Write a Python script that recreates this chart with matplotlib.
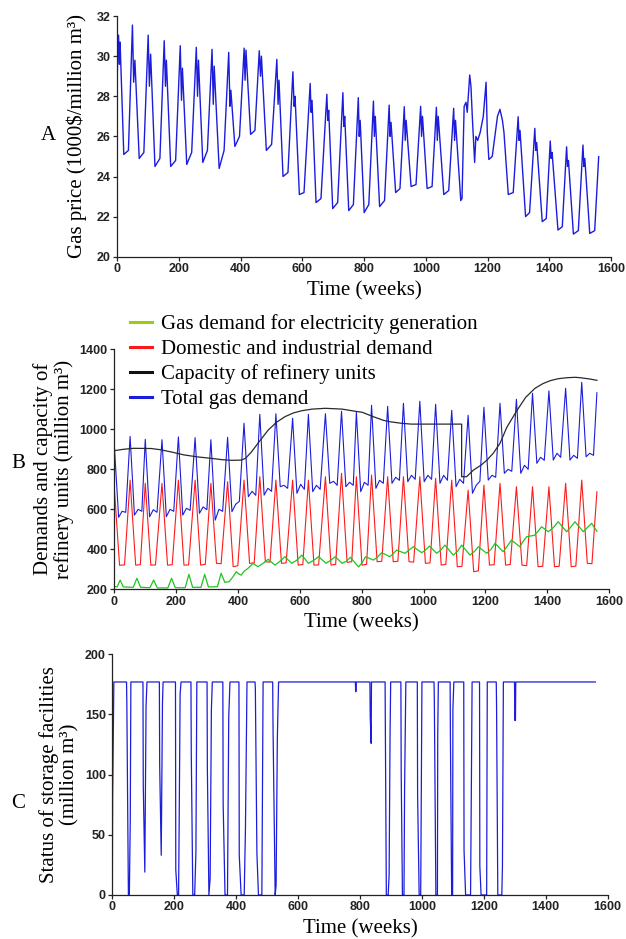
import matplotlib
matplotlib.use("Agg")
import matplotlib.pyplot as plt
from matplotlib.lines import Line2D

# ---- A: gas price, 1000$/million m3 (weekly, key points per season) ----
price_wk = [0,
            4, 7, 9, 21, 36,
            49, 53, 57, 71, 86,
            100, 104, 108, 122, 138,
            152, 156, 159, 173, 189,
            204, 208, 211, 225, 241,
            256, 260, 263, 277, 292,
            307, 311, 314, 330, 346,
            361, 365, 368, 381, 396,
            411, 414, 417, 432, 446,
            460, 464, 467, 483, 500,
            517, 521, 524, 537, 553,
            569, 573, 576, 590, 605,
            625, 628, 631, 644, 660,
            679, 682, 685, 698, 714,
            731, 734, 737, 750, 765,
            781, 784, 787, 800, 815,
            830, 833, 836, 850, 866,
            881, 884, 887, 902, 916,
            930, 933, 936, 952, 968,
            983, 986, 989, 1004, 1020,
            1034, 1037, 1040, 1058, 1074,
            1090, 1093, 1096, 1113, 1117, 1124, 1130, 1134,
            1142, 1146, 1151, 1158, 1162, 1168, 1176, 1186,
            1195, 1199, 1204, 1215, 1232,
            1240, 1248, 1253, 1267, 1283,
            1299, 1302, 1305, 1323, 1336,
            1353, 1356, 1359, 1377, 1390,
            1403, 1406, 1409, 1428, 1442,
            1456, 1459, 1462, 1478, 1494,
            1509, 1512, 1515, 1531, 1547,
            1560]
price_val = [29.2,
             31.05, 29.6, 30.7, 25.1, 25.3,
             31.55, 28.7, 29.8, 24.9, 25.2,
             31.05, 28.5, 30.1, 24.5, 24.9,
             30.77, 28.5, 29.8, 24.5, 24.8,
             30.52, 27.8, 29.4, 24.6, 25.2,
             30.44, 28.0, 29.8, 24.7, 25.3,
             30.34, 27.6, 29.5, 24.4, 25.3,
             30.19, 27.5, 28.3, 25.5, 26.0,
             30.40, 28.8, 30.3, 26.1, 26.3,
             30.27, 29.0, 30.0, 25.3, 25.6,
             29.84, 27.6, 28.8, 24.0, 24.2,
             29.22, 27.5, 28.0, 23.1, 23.2,
             28.64, 27.2, 27.8, 22.7, 22.9,
             28.10, 26.8, 27.3, 22.4, 22.7,
             28.18, 26.5, 27.0, 22.3, 22.6,
             27.93, 26.0, 26.8, 22.2, 22.6,
             27.76, 26.0, 27.0, 22.5, 22.8,
             27.56, 26.0, 26.7, 23.2, 23.4,
             27.48, 25.8, 26.8, 23.5, 23.6,
             27.50, 26.0, 27.0, 23.4, 23.5,
             27.45, 25.8, 27.0, 23.1, 23.3,
             27.40, 25.8, 26.8, 22.8, 22.9, 27.5, 27.7, 27.2,
             29.06, 28.5, 26.8, 24.7, 26.0, 25.8, 26.2, 27.0,
             28.70, 26.2, 24.85, 25.0, 27.0,
             27.35, 26.8, 26.2, 23.1, 23.2,
             26.98, 25.8, 26.3, 22.0, 22.2,
             26.40, 25.3, 25.7, 21.75, 21.9,
             25.77, 24.9, 25.2, 21.33, 21.5,
             25.48, 24.5, 24.8, 21.13, 21.3,
             25.57, 24.5, 24.9, 21.16, 21.3,
             24.99]

# ---- B: demands and refinery capacity, million m3 ----
total_wk = [0, 6, 15, 26, 38,
            52, 66, 78, 90,
            101, 115, 127, 139,
            155, 169, 181, 193,
            208, 222, 234, 246,
            262, 276, 288, 300,
            313, 327, 339, 351,
            367, 381, 393, 405,
            420, 434, 446, 458,
            471, 485, 497, 509,
            523, 537, 549, 561,
            577, 591, 603, 615,
            628, 642, 654, 666,
            683, 697, 709, 721,
            735, 749, 761, 773,
            783, 797, 809, 821,
            832, 846, 858, 870,
            884, 898, 910, 922,
            935, 949, 961, 973,
            988, 1002, 1014, 1026,
            1039, 1053, 1065, 1077,
            1091, 1105, 1117, 1129,
            1144, 1158, 1170, 1182,
            1195, 1209, 1221, 1233,
            1247, 1261, 1273, 1285,
            1300, 1314, 1326, 1338,
            1352, 1366, 1378, 1390,
            1405, 1419, 1431, 1443,
            1459, 1473, 1485, 1497,
            1511, 1525, 1537, 1549,
            1560]
total_val = [946, 790, 560, 590, 585,
             965, 571, 600, 590,
             950, 563, 598, 585,
             948, 563, 600, 590,
             962, 571, 605, 595,
             958, 580, 612, 598,
             948, 546, 600, 590,
             960, 588, 625, 640,
             1030, 663, 690, 670,
             1075, 671, 705, 690,
             1078, 713, 720, 705,
             1055, 680, 725, 700,
             1075, 688, 720, 700,
             1078, 730, 740, 720,
             1090, 713, 735, 720,
             1085, 688, 735, 720,
             1120, 705, 745, 730,
             1115, 730, 760, 745,
             1130, 738, 770, 750,
             1140, 738, 770, 750,
             1125, 730, 770, 745,
             1095, 713, 750, 730,
             1070, 680, 720, 740,
             1110, 746, 770, 760,
             1130, 780, 800, 790,
             1150, 780, 820, 800,
             1180, 830, 860, 845,
             1192, 846, 880, 860,
             1205, 846, 870, 855,
             1235, 863, 880, 870,
             1183]

domestic_wk = [0, 18, 34,
               52, 70, 85,
               101, 119, 134,
               155, 173, 188,
               208, 226, 241,
               262, 280, 295,
               313, 331, 346,
               367, 385, 400,
               420, 438, 453,
               471, 489, 504,
               523, 541, 556,
               577, 595, 610,
               628, 646, 661,
               683, 701, 716,
               735, 753, 768,
               783, 801, 816,
               832, 850, 865,
               884, 902, 917,
               935, 953, 968,
               988, 1006, 1021,
               1039, 1057, 1072,
               1091, 1109, 1124,
               1144, 1162, 1177,
               1195, 1213, 1228,
               1247, 1265, 1280,
               1300, 1318, 1333,
               1352, 1370, 1385,
               1405, 1423, 1438,
               1459, 1477, 1492,
               1511, 1529, 1544,
               1560]
domestic_val = [730, 320, 322,
                746, 321, 323,
                730, 321, 322,
                730, 321, 323,
                746, 321, 322,
                746, 321, 325,
                730, 330, 328,
                738, 313, 318,
                746, 330, 332,
                763, 338, 336,
                746, 330, 332,
                746, 321, 324,
                746, 321, 322,
                763, 321, 325,
                780, 335, 338,
                763, 321, 325,
                771, 338, 340,
                763, 338, 340,
                763, 338, 336,
                763, 330, 332,
                755, 321, 325,
                746, 313, 315,
                696, 288, 292,
                721, 321, 323,
                730, 321, 324,
                713, 321, 318,
                713, 313, 315,
                713, 313, 315,
                730, 313, 316,
                746, 330, 328,
                688]

power_wk = [0, 10, 20, 30, 62, 74, 86, 116, 128, 140, 174, 186, 198,
            230, 242, 254, 281, 293, 305, 334, 346, 358, 372, 383, 395,
            405, 411, 420, 433, 449, 465, 482, 498, 520, 536, 552, 574,
            590, 607, 628, 645, 661, 685, 700, 715, 737, 750, 764, 790,
            800, 813, 838, 850, 865, 891, 900, 913, 940, 952, 967, 994,
            1005, 1019, 1042, 1055, 1069, 1096, 1110, 1123, 1150, 1165,
            1177, 1204, 1218, 1231, 1257, 1270, 1284, 1311, 1322, 1333,
            1358, 1370, 1381, 1403, 1420, 1435, 1462, 1475, 1489, 1516,
            1530, 1543, 1560]
power_val = [215, 212, 246, 212, 210, 255, 210, 208, 246, 207, 207, 255, 208,
             208, 275, 210, 210, 275, 212, 213, 280, 235, 238, 260, 288,
             275, 271, 290, 305, 330, 313, 330, 350, 321, 340, 363, 330,
             345, 371, 330, 345, 363, 330, 345, 363, 330, 340, 360, 312,
             330, 363, 346, 360, 383, 363, 375, 396, 380, 395, 413, 383,
             395, 416, 380, 395, 421, 371, 390, 421, 371, 390,
             413, 380, 400, 430, 388, 415, 446, 413, 440, 463,
             470, 490, 513, 488, 510, 538, 488, 510, 538, 488,
             510, 530, 490]

capacity_wk = [0, 30, 63, 120, 150, 190, 226, 270, 313, 350, 380, 411, 425,
               443, 470, 498, 525, 552, 580, 607, 640, 683, 737, 780, 802,
               838, 870, 891, 929, 960, 1123, 1123, 1139, 1161, 1185, 1204,
               1225, 1247, 1269, 1300, 1330, 1360, 1385, 1409, 1435, 1463,
               1490, 1506, 1535, 1560]
capacity_val = [893, 900, 905, 904, 898, 885, 872, 862, 855, 848, 845, 846, 855,
                885, 940, 996, 1035, 1063, 1082, 1093, 1101, 1105, 1101, 1090, 1085,
                1063, 1045, 1038, 1030, 1026, 1026, 763, 763, 796, 820, 845,
                880, 930, 1010, 1090, 1160, 1205, 1228, 1243, 1253, 1258,
                1260, 1258, 1252, 1245]

# ---- C: storage facilities, million m3 ----
storage_wk = [0, 1, 5,
              46, 47, 50, 52, 55, 58, 60,
              99, 100, 105, 109, 112,
              152, 153, 158, 162, 164,
              204, 205, 210, 214, 216, 219, 222,
              254, 255, 260, 266, 270, 273,
              306, 307, 312, 316, 320, 323,
              357, 358, 364, 372, 376, 380,
              409, 410, 416, 426, 430, 435,
              461, 462, 467, 472, 483, 487,
              518, 519, 526, 529, 533, 537,
              785, 786, 787, 788,
              832, 833, 836, 837,
              881, 882, 885, 891, 894, 897, 899,
              932, 933, 937, 942, 944, 948,
              985, 986, 991, 996, 1000,
              1039, 1040, 1045, 1050, 1051, 1053,
              1091, 1092, 1096, 1099, 1100, 1103,
              1135, 1136, 1141, 1157, 1160, 1162,
              1186, 1187, 1191, 1209, 1211,
              1240, 1241, 1245, 1258, 1260, 1263,
              1299, 1300, 1302, 1303,
              1560]
storage_val = [0, 79, 177,
               177, 158, 62, 0, 0, 62, 177,
               177, 91, 19, 157, 177,
               177, 108, 33, 159, 177,
               177, 21, 0, 0, 61, 167, 177,
               177, 119, 0, 0, 35, 177,
               177, 105, 0, 14, 154, 177,
               177, 76, 0, 0, 147, 177,
               177, 33, 0, 0, 55, 177,
               177, 171, 35, 0, 0, 177,
               177, 141, 0, 8, 130, 177,
               177, 169, 169, 177,
               177, 148, 126, 177,
               177, 132, 0, 0, 17, 132, 177,
               177, 102, 0, 0, 89, 177,
               177, 83, 0, 0, 177,
               177, 163, 0, 0, 132, 177,
               177, 129, 0, 0, 154, 177,
               177, 37, 0, 0, 104, 177,
               177, 24, 0, 0, 177,
               177, 157, 0, 0, 24, 177,
               177, 145, 145, 177,
               177]

week_ticks = list(range(0, 1601, 200))

SERIF = "Liberation Serif"
TICK_FONT = {"family": "Liberation Sans", "weight": "bold", "size": 9}
LINE_BLUE = "#1c1cdc"


def style_axis(ax, ylim, yticks):
    ax.set_xlim(0, 1600)
    ax.set_ylim(*ylim)
    ax.set_xticks(week_ticks)
    ax.set_yticks(yticks)
    for side in ("top", "right"):
        ax.spines[side].set_visible(False)
    for side in ("left", "bottom"):
        ax.spines[side].set_color("#222222")
        ax.spines[side].set_linewidth(0.9)
    ax.tick_params(direction="out", length=3.2, width=0.9, pad=1.5,
                   colors="#222222")
    for lab in ax.get_xticklabels() + ax.get_yticklabels():
        lab.set_fontproperties(TICK_FONT)
    ax.set_xlabel("Time (weeks)", family=SERIF, fontsize=15, labelpad=4)


fig = plt.figure(figsize=(6.26, 9.39), dpi=100)

ax_a = fig.add_axes([0.1874, 0.7266, 0.7887, 0.2563])
ax_b = fig.add_axes([0.1821, 0.3724, 0.7912, 0.2556])
ax_c = fig.add_axes([0.1794, 0.0469, 0.7914, 0.2563])

# A
ax_a.plot(price_wk, price_val, color=LINE_BLUE, lw=1.0)
style_axis(ax_a, (20, 32), range(20, 33, 2))
ax_a.set_ylabel("Gas price (1000\\$/million m³)", family=SERIF,
                fontsize=15, labelpad=7)

# B
ax_b.plot(total_wk, total_val, color=LINE_BLUE, lw=0.8)
ax_b.plot(domestic_wk, domestic_val, color="#ff1a1a", lw=0.8)
ax_b.plot(power_wk, power_val, color="#1fc41f", lw=0.9)
ax_b.plot(capacity_wk, capacity_val, color="#2a2a2a", lw=0.9)
style_axis(ax_b, (200, 1400), range(200, 1401, 200))
ax_b.set_ylabel("Demands and capacity of\nrefinery units (million m³)",
                family=SERIF, fontsize=15, labelpad=4, linespacing=1.05)

handles = [Line2D([], [], color="#9ccc10", lw=2.2),
           Line2D([], [], color="#ff1a1a", lw=2.2),
           Line2D([], [], color="#111111", lw=2.2),
           Line2D([], [], color=LINE_BLUE, lw=2.2)]
labels = ["Gas demand for electricity generation",
          "Domestic and industrial demand",
          "Capacity of refinery units",
          "Total gas demand"]
fig.legend(handles, labels, loc="upper left",
           bbox_to_anchor=(130 / 626, 1 - 314 / 939),
           frameon=False, prop={"family": SERIF, "size": 15},
           handlelength=1.05, handletextpad=0.45, labelspacing=0.26,
           borderpad=0, borderaxespad=0)

# C
ax_c.plot(storage_wk, storage_val, color=LINE_BLUE, lw=0.9)
style_axis(ax_c, (0, 200), range(0, 201, 50))
ax_c.set_ylabel("Status of storage facilities\n(million m³)",
                family=SERIF, fontsize=15, labelpad=4, linespacing=1.05)

for letter, x, y in (("A", 48, 135), ("B", 18, 463), ("C", 18, 804)):
    fig.text(x / 626, 1 - y / 939, letter, family=SERIF, fontsize=15,
             ha="center", va="center")

fig.savefig("out.png", dpi=100)
